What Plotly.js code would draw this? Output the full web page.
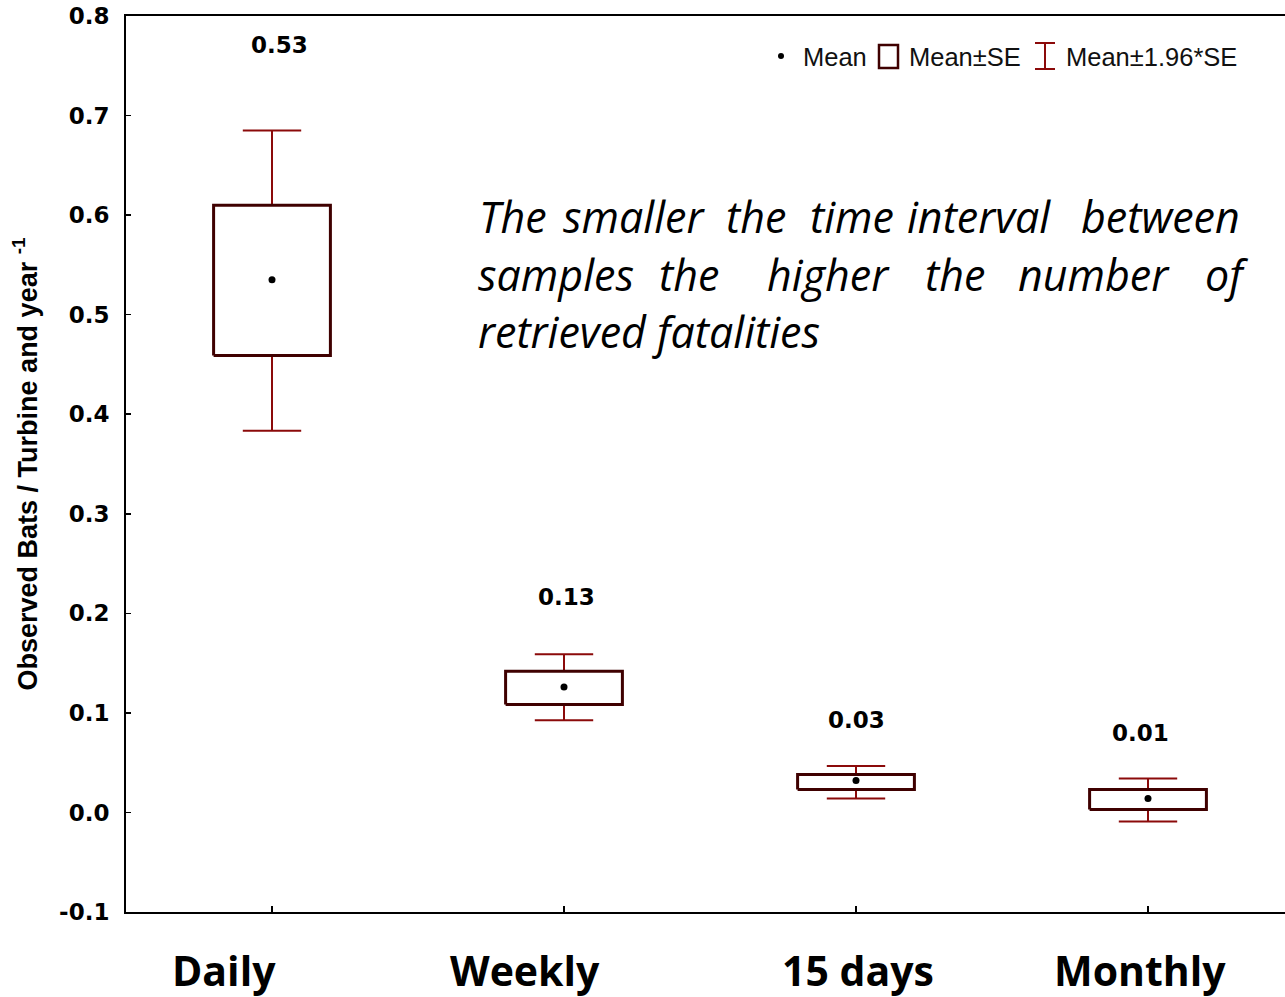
<!DOCTYPE html>
<html>
<head>
<meta charset="utf-8">
<script src="https://cdn.plot.ly/plotly-3.0.1.min.js"></script>
<style>html,body{margin:0;padding:0;background:#fff;}#chart{width:1285px;height:997px;}</style>
</head>
<body>
<div id="chart"></div>
<script>
// ---- data ----
const categories = ['Daily', 'Weekly', '15 days', 'Monthly'];
const means  = [0.535, 0.126, 0.032, 0.014];
const seLow  = [0.459, 0.1085, 0.023, 0.003];
const seHigh = [0.610, 0.1417, 0.038, 0.023];
const ciLow  = [0.3835, 0.0925, 0.014, -0.009];
const ciHigh = [0.685, 0.1588, 0.0466, 0.0342];
const valueLabels = ['0.53', '0.13', '0.03', '0.01'];
const yTickVals = [-0.1, 0, 0.1, 0.2, 0.3, 0.4, 0.5, 0.6, 0.7, 0.8];
const yTickText = ['-0.1', '0.0', '0.1', '0.2', '0.3', '0.4', '0.5', '0.6', '0.7', '0.8'];
const noteLine1 = ['The', 'smaller', 'the', 'time', 'interval', 'between'];
const noteLine2 = ['samples', 'the', 'higher', 'the', 'number', 'of'];
const noteLine3 = 'retrieved fatalities';
const legendNames = ['Mean', 'Mean±SE', 'Mean±1.96*SE'];

// ---- geometry / style ----
const W = 1285, H = 997;
const M = {l: 126, r: 0, t: 16, b: 85};
const plotW = W - M.l - M.r, plotH = H - M.t - M.b;
const px = x => (x - M.l) / plotW;
const py = y => (H - M.b - y) / plotH;
const boxHalf = 0.2, capHalf = 0.1;
const boxColor = '#3f0000', whiskColor = '#8b0a0a';

// box outlines
const bx = [], by = [];
categories.forEach((c, i) => {
  bx.push(i - boxHalf, i + boxHalf, i + boxHalf, i - boxHalf, i - boxHalf, null);
  by.push(seLow[i], seLow[i], seHigh[i], seHigh[i], seLow[i], null);
});
// whiskers
const wx = [], wy = [];
categories.forEach((c, i) => {
  wx.push(i, i, null, i, i, null, i - capHalf, i + capHalf, null, i - capHalf, i + capHalf, null);
  wy.push(seHigh[i], ciHigh[i], null, seLow[i], ciLow[i], null, ciHigh[i], ciHigh[i], null, ciLow[i], ciLow[i], null);
});

const traces = [
  {type: 'scatter', mode: 'lines', x: wx, y: wy, line: {color: whiskColor, width: 2}, hoverinfo: 'skip', showlegend: false},
  {type: 'scatter', mode: 'lines', x: bx, y: by, fill: 'toself', fillcolor: '#ffffff', line: {color: boxColor, width: 3}, hoverinfo: 'skip', showlegend: false},
  {type: 'scatter', mode: 'markers', x: categories.map((c, i) => i), y: means, marker: {color: '#000', size: 7}, showlegend: false}
];

const boldFont = 'DejaVu Sans, Verdana, sans-serif';
const annotations = [];
// value labels
const labelX = [0.024, 1.01, 2.003, 2.973];
const labelY = [0.771, 0.2168, 0.093, 0.080];
valueLabels.forEach((t, i) => annotations.push({
  text: t, xref: 'x', yref: 'y', x: labelX[i], y: labelY[i], showarrow: false,
  xanchor: 'center', yanchor: 'middle',
  font: {family: boldFont, size: 23, weight: 'bold', color: '#000'}
}));
// category labels
const catX = [224, 525, 858, 1140];
categories.forEach((c, i) => annotations.push({
  text: c, xref: 'paper', yref: 'paper', x: px(catX[i]), y: py(970), showarrow: false,
  xanchor: 'center', yanchor: 'middle',
  font: {family: 'Open Sans, sans-serif', size: 41, weight: 'bold', color: '#000'}
}));
// note text (justified word by word)
const noteFont = {family: 'Open Sans, sans-serif', size: 43, style: 'italic', color: '#000'};
const l1X = [513, 634, 756, 852, 979, 1160];
const l2X = [556, 689, 828, 955, 1094, 1226];
noteLine1.forEach((w, i) => annotations.push({text: w, xref: 'paper', yref: 'paper', x: px(l1X[i]), y: py(216), showarrow: false, xanchor: 'center', yanchor: 'middle', font: noteFont}));
noteLine2.forEach((w, i) => annotations.push({text: w, xref: 'paper', yref: 'paper', x: px(l2X[i]), y: py(274), showarrow: false, xanchor: 'center', yanchor: 'middle', font: noteFont}));
annotations.push({text: noteLine3, xref: 'paper', yref: 'paper', x: px(476), y: py(331), showarrow: false, xanchor: 'left', yanchor: 'middle', font: noteFont});
// legend texts
const legX = [803, 909, 1066];
legendNames.forEach((t, i) => annotations.push({
  text: t, xref: 'paper', yref: 'paper', x: px(legX[i]) , y: py(57), showarrow: false,
  xanchor: 'left', yanchor: 'middle', xshift: -2,
  font: {family: 'Liberation Sans, Arial, sans-serif', size: 25.5, color: '#111'}
}));

const shapes = [
  {type: 'circle', xref: 'paper', yref: 'paper', x0: px(778), x1: px(784), y0: py(53), y1: py(59), fillcolor: '#000', line: {width: 0}},
  {type: 'rect', xref: 'paper', yref: 'paper', x0: px(879), x1: px(898), y0: py(45), y1: py(68), line: {color: boxColor, width: 2.5}},
  {type: 'line', xref: 'paper', yref: 'paper', x0: px(1045), x1: px(1045), y0: py(43), y1: py(69), line: {color: whiskColor, width: 2}},
  {type: 'line', xref: 'paper', yref: 'paper', x0: px(1035), x1: px(1055), y0: py(43), y1: py(43), line: {color: whiskColor, width: 2}},
  {type: 'line', xref: 'paper', yref: 'paper', x0: px(1035), x1: px(1055), y0: py(69), y1: py(69), line: {color: whiskColor, width: 2}}
];

const layout = {
  width: W, height: H,
  margin: M,
  paper_bgcolor: '#fff', plot_bgcolor: '#fff',
  showlegend: false,
  xaxis: {
    range: [-0.5, -0.5 + plotW / 292],
    tickvals: categories.map((c, i) => i), showticklabels: false,
    ticks: 'inside', ticklen: 6, tickwidth: 1.5, tickcolor: '#000',
    showline: true, linecolor: '#000', linewidth: 2, mirror: true,
    showgrid: false, zeroline: false, fixedrange: true
  },
  yaxis: {
    range: [-0.1, 0.8],
    tickvals: yTickVals, ticktext: yTickText,
    ticks: 'inside', ticklen: 5, tickwidth: 1.5, tickcolor: '#000',
    showline: true, linecolor: '#000', linewidth: 2,
    showgrid: false, zeroline: false, fixedrange: true,
    ticklabelstandoff: 10,
    tickfont: {family: boldFont, size: 23, weight: 'bold', color: '#000'},
    title: {
      text: 'Observed Bats / Turbine and year <sup>-1</sup>',
      standoff: 14,
      font: {family: 'Liberation Sans, Arial, sans-serif', size: 27, weight: 'bold', color: '#000'}
    }
  },
  annotations: annotations,
  shapes: shapes
};

Plotly.newPlot('chart', traces, layout, {displayModeBar: false, staticPlot: true});
</script>
</body>
</html>
